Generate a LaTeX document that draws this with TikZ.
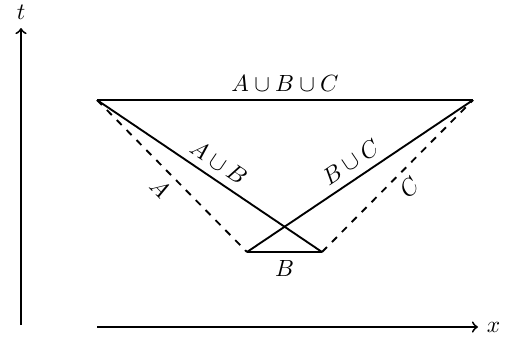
\documentclass[tikz,border=0pt]{standalone}
\begin{document}
\begin{tikzpicture}[x=0.015cm,y=-0.015cm,thick]
        \useasboundingbox (0,0) rectangle (514,339);
        \coordinate (L) at (97,100); %左上
        \coordinate (R) at (473,100); %右上
        \coordinate (BL) at (247,252); %下左
        \coordinate (BR) at (322,252); %下右
        \coordinate (O) at (21,325);
        \coordinate (T) at (21,28);
        \coordinate (X0) at (97,327);
        \coordinate (X1) at (478,327);
        \draw[->] (O)--(T) node[above]{$t$}; %t軸
        \draw[->] (X0)--(X1) node[right]{$x$}; %x軸
        \draw (L)--(R) node[midway,above]{$A\cup B\cup C$};
        \draw (L)--(BR) node[midway,above,sloped]{$A\cup B$};
        \draw (BL)--(R) node[midway,above,sloped]{$B\cup C$};
        \draw (BL)--(BR) node[midway,below]{$B$};
        \draw[dashed] (L)--(BL) node[midway,below,sloped]{$A$};
        \draw[dashed] (BR)--(R) node[midway,below,sloped]{$C$};
    \end{tikzpicture}
\end{document}
